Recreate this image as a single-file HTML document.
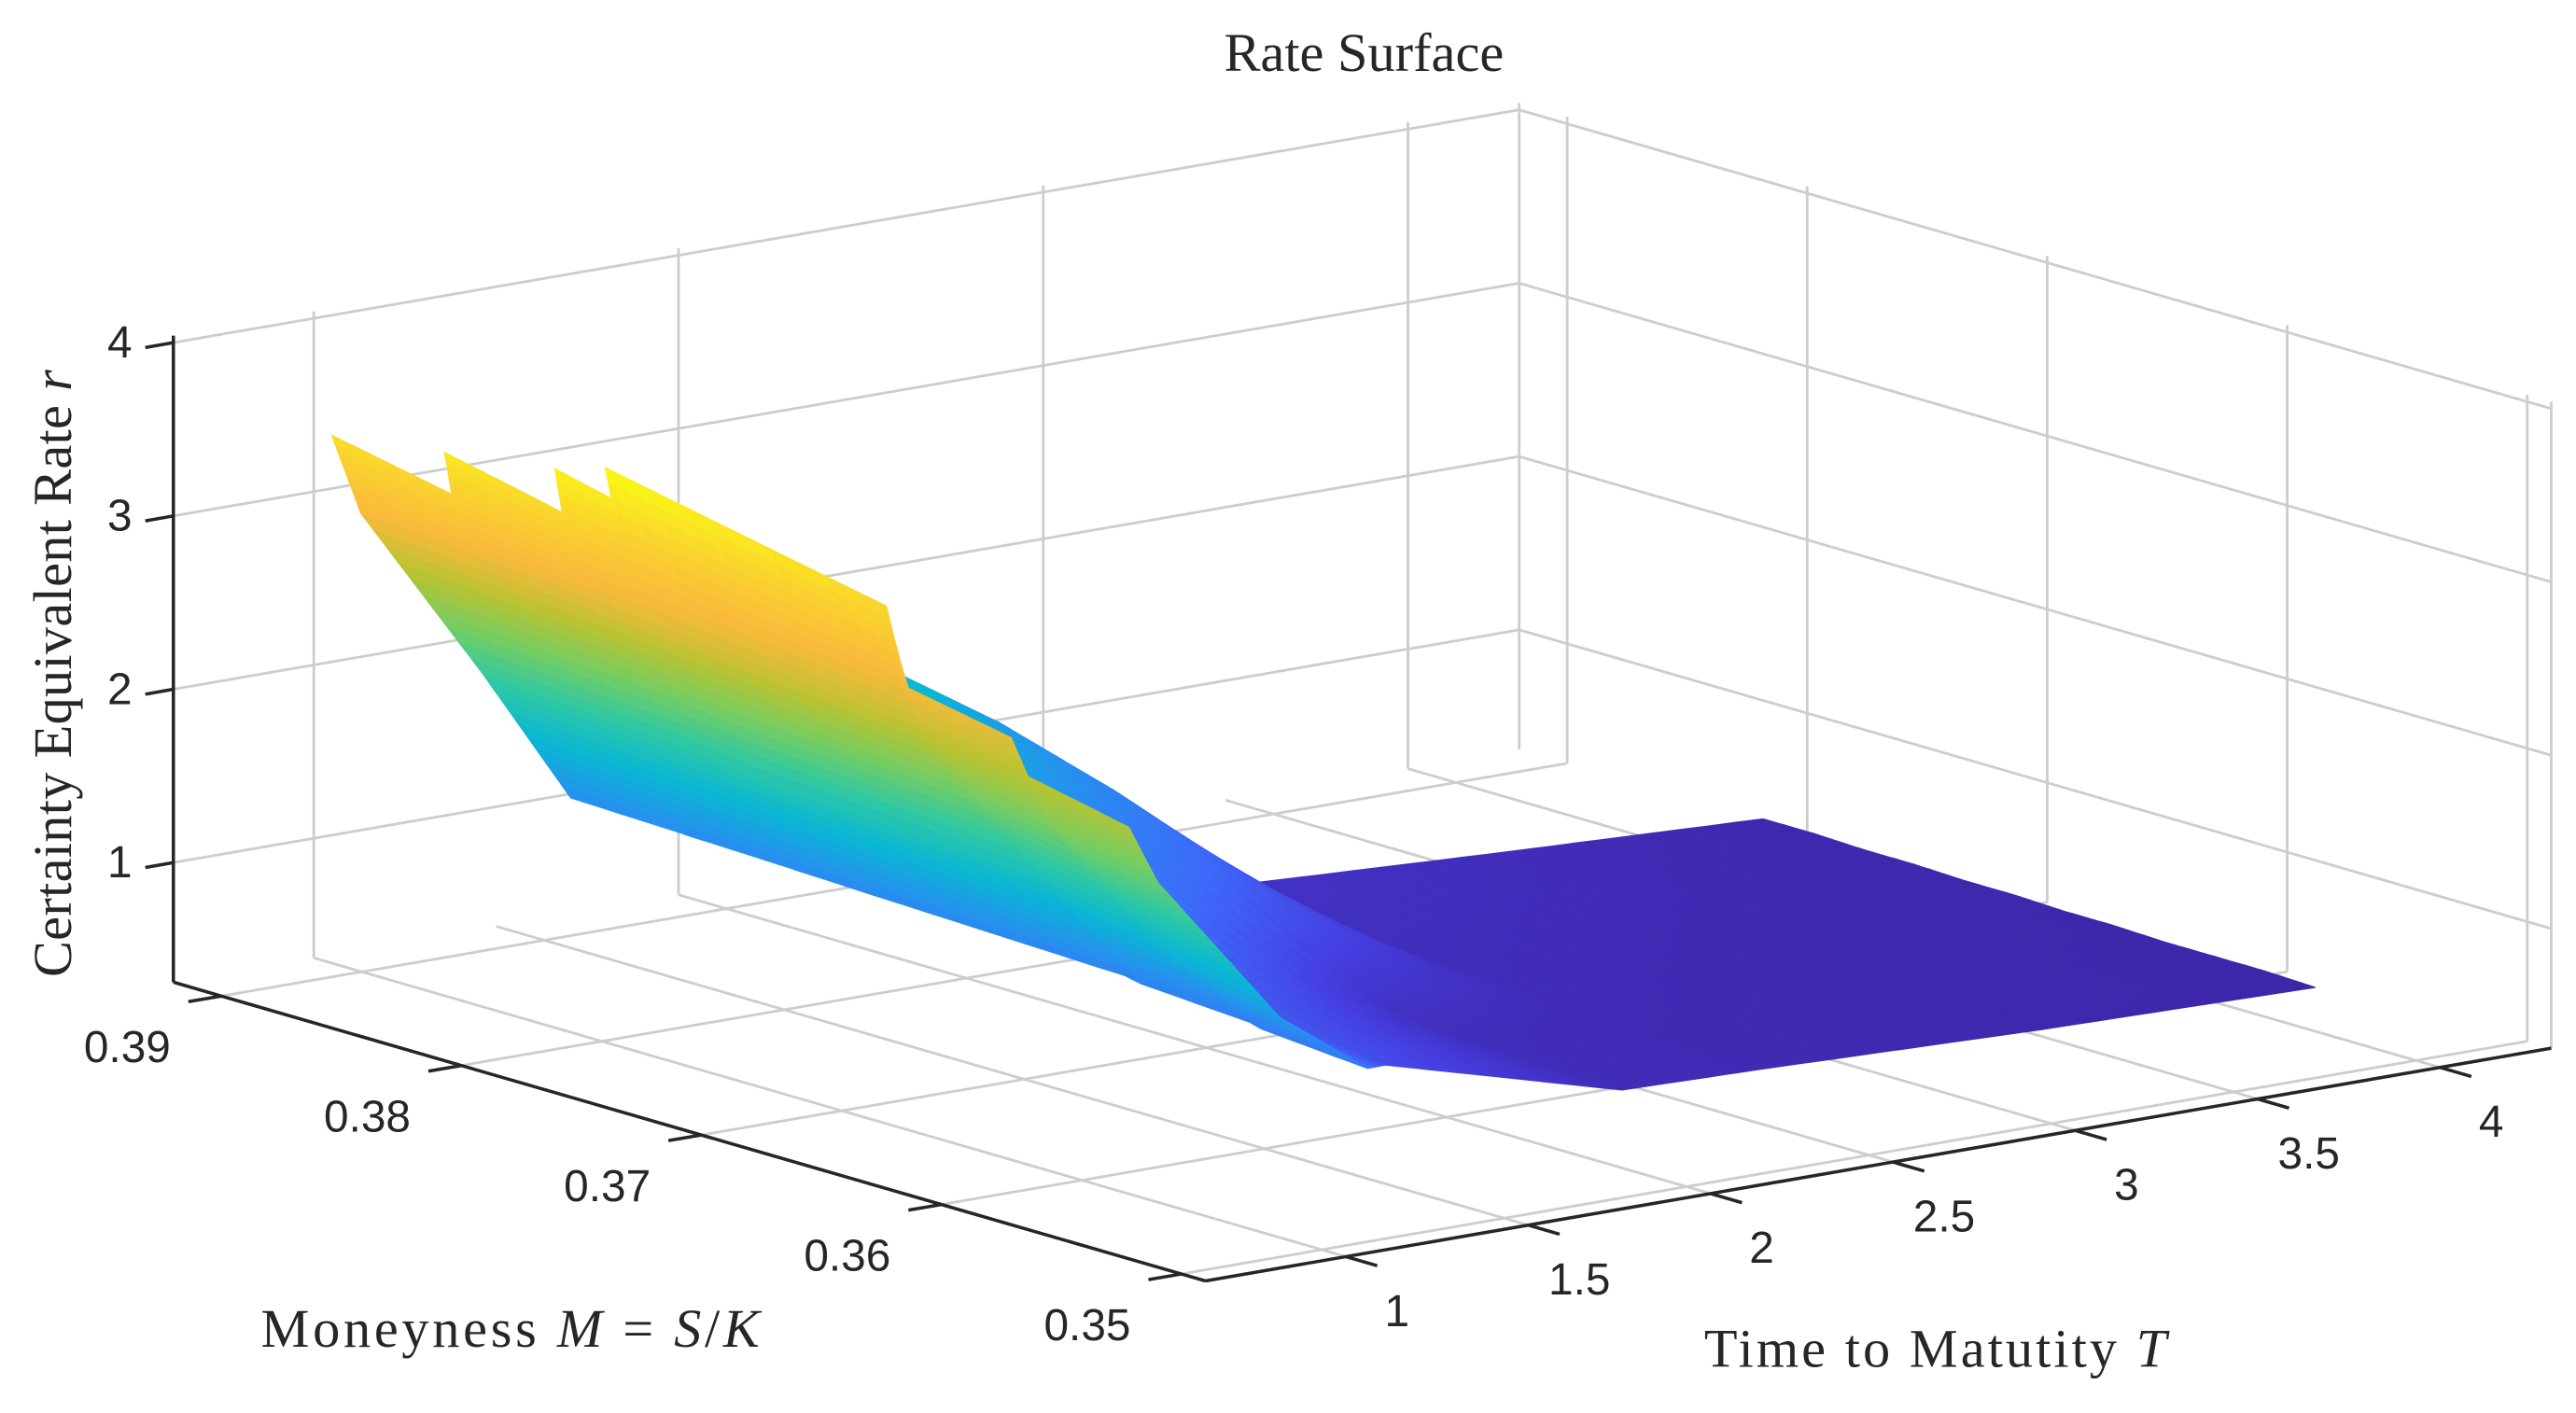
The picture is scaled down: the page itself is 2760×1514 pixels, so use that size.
<!DOCTYPE html>
<html><head><meta charset="utf-8"><style>
html,body{margin:0;padding:0;background:#fff;}
svg{display:block;}
.tk{font-family:"Liberation Sans",sans-serif;font-size:27px;fill:#262626;}
.lb{font-family:"Liberation Serif",serif;font-size:33px;fill:#262626;}
</style></head><body>
<svg id="chart" width="2760" height="1514" viewBox="0 0 1560 856" preserveAspectRatio="none" xmlns="http://www.w3.org/2000/svg">
<rect width="1560" height="856" fill="#fff"/>
<g id="grid"></g>
<g id="surf"></g>
<g id="axes"></g>
<text class="lb" x="826" y="43" text-anchor="middle">Rate Surface</text>
<text class="lb" x="158" y="816" textLength="302">Moneyness <tspan font-style="italic">M</tspan> = <tspan font-style="italic">S</tspan>/<tspan font-style="italic">K</tspan></text>
<text class="lb" x="1032" y="828" textLength="280">Time to Matutity <tspan font-style="italic">T</tspan></text>
<text class="lb" transform="translate(43,408) rotate(-90)" text-anchor="middle" textLength="368">Certainty Equivalent Rate <tspan font-style="italic">r</tspan></text>
</svg>
<script>
const zTicks=[1,2,3,4];
const mTicks=[0.35,0.36,0.37,0.38,0.39];
const mTickLabels=["0.35","0.36","0.37","0.38","0.39"];
const tTicks=[1,1.5,2,2.5,3,3.5,4];
const tTickLabels=["1","1.5","2","2.5","3","3.5","4"];
const tWallTicks=[1,2,3,4];
const tRows=[0.615,0.695,1.03,1.27,1.7,2.35,2.75,3.5,4.25];
const mRow0=[0.3854,0.3804,0.3807,0.3758,0.3761,0.3737,0.3740,0.3623,0.3616,0.3571,0.3566,0.3522];
const mRowMid=[0.384,0.3816,0.3792,0.3769,0.3745,0.3722,0.3698,0.3675,0.3651,0.3627,0.3604,0.358];
const mRowBack=[0.381,0.3789,0.3768,0.3747,0.3726,0.3705,0.3685,0.3664,0.3643,0.3622,0.3601,0.358];
const mGrid=[mRow0,mRow0,mRow0,mRow0,mRowMid,mRowMid,mRowBack,mRowBack,mRowBack];
const zGrid=[
[3.73,3.59,3.82,3.67,3.91,3.83,4.0,3.67,3.24,3.12,2.93,2.80],
[3.25,3.2,3.2,3.15,3.15,3.12,3.12,2.95,2.85,2.7,2.6,2.45],
[2.2,2.15,2.15,2.1,2.1,2.05,2.05,1.95,1.9,1.75,1.7,1.55],
[1.4,1.38,1.38,1.36,1.36,1.35,1.35,1.3,1.28,1.24,1.22,1.17],
[2.4,2.2,2.0,1.8,1.6,1.45,1.3,1.15,1.0,0.9,0.85,0.8],
[1.5,1.4,1.3,1.15,1.0,0.85,0.65,0.5,0.45,0.44,0.43,0.42],
[0.52,0.5,0.48,0.46,0.45,0.44,0.43,0.42,0.41,0.4,0.4,0.4],
[0.44,0.43,0.42,0.41,0.4,0.39,0.38,0.37,0.37,0.36,0.36,0.35],
[0.37,0.37,0.36,0.36,0.35,0.35,0.34,0.34,0.33,0.33,0.33,0.32]];

const M0=0.392,M1=0.349,T0=0.615,T1=4.305,Z0=0.31,Z1=4.04;
const NS="http://www.w3.org/2000/svg";
function A(M){return (M0-M)/(M0-M1);}
function B(T){return (T-T0)/(T1-T0);}
function P(M,T,z){const a=A(M),b=B(T);return [105+625*a+815*b,595+181*a-141*b-(z-Z0)*105];}
function mk(tag,attrs,parent){const e=document.createElementNS(NS,tag);for(const k in attrs)e.setAttribute(k,attrs[k]);parent.appendChild(e);return e;}
const grid=document.getElementById('grid'),surf=document.getElementById('surf'),axes=document.getElementById('axes');
function gline(p,q,name){const l=mk('line',{x1:p[0],y1:p[1],x2:q[0],y2:q[1],stroke:'#cdcdcd','stroke-width':1.6},grid);

}
tWallTicks.forEach(t=>gline(P(M0,t,Z0),P(M0,t,Z1),'grid-wall-t'));
zTicks.forEach(z=>gline(P(M0,T0,z),P(M0,T1,z),'grid-wall-z'));
gline(P(M0,T1,Z0),P(M0,T1,Z1),'grid-corner');
mTicks.forEach(m=>gline(P(m,T1,Z0),P(m,T1,Z1),'grid-wall-m'));
zTicks.forEach(z=>gline(P(M0,T1,z),P(M1,T1,z),'grid-wall-z2'));
gline(P(M1,T1,Z0),P(M1,T1,Z1),'grid-edge');
mTicks.forEach(m=>gline(P(m,T0,Z0),P(m,T1,Z0),'grid-floor-m'));
tTicks.forEach(t=>gline(P(M0,t,Z0),P(M1,t,Z0),'grid-floor-t'));

const cmap=[[0,[62,38,168]],[0.1,[70,62,225]],[0.2,[62,105,250]],[0.3,[38,145,238]],[0.4,[10,182,212]],[0.5,[45,200,165]],[0.6,[115,205,100]],[0.7,[185,195,50]],[0.8,[250,185,60]],[0.9,[250,212,45]],[1,[249,251,20]]];
let zmin=Infinity,zmax=-Infinity;zGrid.forEach(r=>r.forEach(v=>{zmin=Math.min(zmin,v);zmax=Math.max(zmax,v);}));
function col(z){let u=(z-zmin)/(zmax-zmin);u=Math.max(0,Math.min(1,u));
for(let i=1;i<cmap.length;i++){if(u<=cmap[i][0]){const [u0,c0]=cmap[i-1],[u1,c1]=cmap[i];const f=(u-u0)/(u1-u0);
return 'rgb('+c0.map((c,k)=>Math.round(c+(c1[k]-c)*f)).join(',')+')';}}return 'rgb(249,251,20)';}
const quads=[];const n=10;
for(let i=0;i<tRows.length-1;i++)for(let j=0;j<mRow0.length-1;j++){
 const node=(ii,jj)=>[mGrid[ii][jj],tRows[ii],zGrid[ii][jj]];
 const c00=node(i,j),c01=node(i,j+1),c10=node(i+1,j),c11=node(i+1,j+1);
 const bl=(u,v)=>[0,1,2].map(k=>c00[k]*(1-u)*(1-v)+c01[k]*(1-u)*v+c10[k]*u*(1-v)+c11[k]*u*v);
 for(let s=0;s<n;s++)for(let r=0;r<n;r++){
  const pts=[bl(s/n,r/n),bl(s/n,(r+1)/n),bl((s+1)/n,(r+1)/n),bl((s+1)/n,r/n)];
  let za=0,ca=0,cb=0;pts.forEach(p=>{za+=p[2]/4;ca+=A(p[0])/4;cb+=B(p[1])/4;});
  const close=ca-cb+0.45*(za-Z0)/(Z1-Z0);
  quads.push({pts:pts.map(p=>P(p[0],p[1],p[2])),z:za,close});
 }}
quads.sort((a,b)=>a.close-b.close);
quads.forEach(q=>{const c=col(q.z);
 const pg=mk('polygon',{points:q.pts.map(p=>p[0].toFixed(1)+','+p[1].toFixed(1)).join(' '),fill:c,stroke:c,'stroke-width':0.7,'stroke-linejoin':'round'},surf);
 
 });

function aline(p,q,name,w){const l=mk('line',{x1:p[0],y1:p[1],x2:q[0],y2:q[1],stroke:'#262626','stroke-width':w||2},axes);

}
aline(P(M0,T0,Z0),P(M0,T0,Z1),'z-axis-line');
aline(P(M0,T0,Z0),P(M1,T0,Z0),'x-axis-line');
aline(P(M1,T0,Z0),P(M1,T1,Z0),'y-axis-line');
function txt(x,y,s,anchor,name){const t=mk('text',{x:x,y:y,'text-anchor':anchor,class:'tk'},axes);t.textContent=s;

}
zTicks.forEach(z=>{const p=P(M0,T0,z);aline(p,[p[0]-17,p[1]+3],'z-tick',2);txt(p[0]-25,p[1]+9,String(z),'end','z-tick-label');});
mTicks.forEach((m,i)=>{const p=P(m,T0,Z0);aline(p,[p[0]-20,p[1]+3.4],'x-tick',2);txt(p[0]-57,p[1]+40,mTickLabels[i],'middle','x-tick-label');});
tTicks.forEach((t,i)=>{const p=P(M1,t,Z0);aline(p,[p[0]+19,p[1]+5.5],'y-tick',2);txt(p[0]+31,p[1]+42,tTickLabels[i],'middle','y-tick-label');});
</script>
</body></html>
